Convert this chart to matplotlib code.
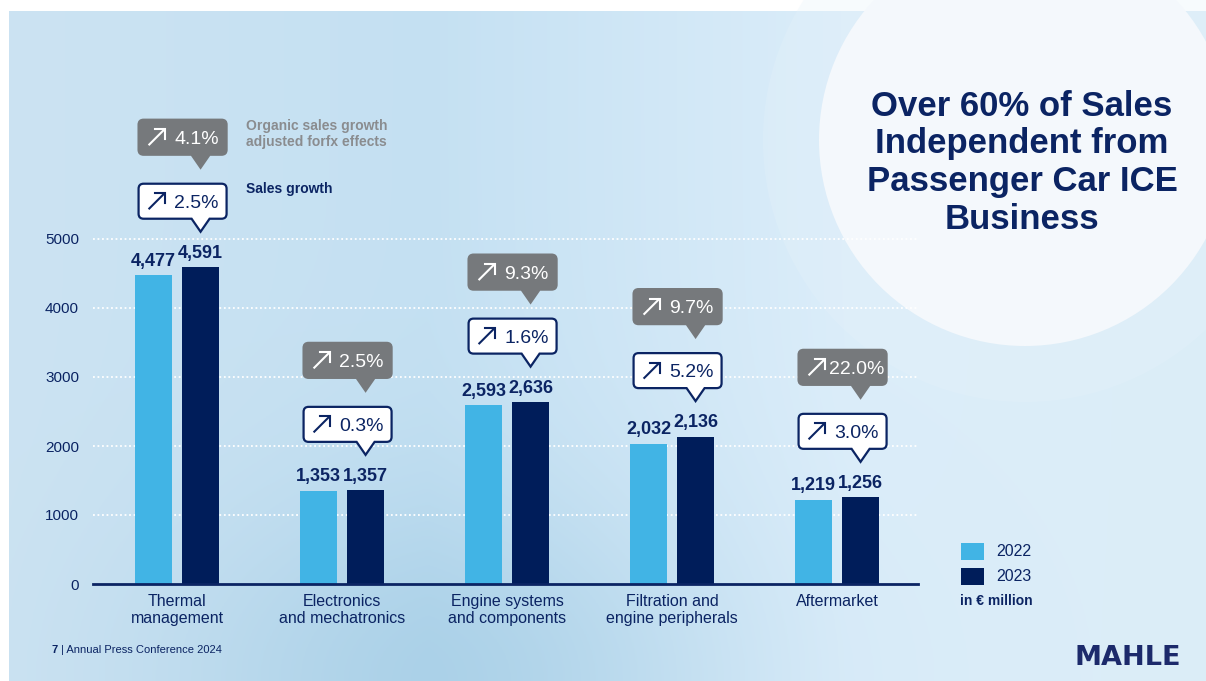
import numpy as np
import matplotlib.pyplot as plt
from matplotlib.patches import Circle, PathPatch, Rectangle
from matplotlib.path import Path

plt.rcParams['font.family'] = ['Liberation Sans', 'DejaVu Sans']

# Sales by business unit, in EUR million
categories = ['Thermal\nmanagement', 'Electronics\nand mechatronics',
              'Engine systems\nand components', 'Filtration and\nengine peripherals',
              'Aftermarket']
years = ['2022', '2023']
sales_2022 = [4477, 1353, 2593, 2032, 1219]
sales_2023 = [4591, 1357, 2636, 2136, 1256]
sales_growth = [2.5, 0.3, 1.6, 5.2, 3.0]
organic_growth = [4.1, 2.5, 9.3, 9.7, 22.0]
y_ticks = [0, 1000, 2000, 3000, 4000, 5000]

W, H = 1206, 681
NAVY = '#0b2463'
BAR_NAVY = '#001d5a'
LIGHT = '#41b4e5'
GREY = '#76797c'

fig = plt.figure(figsize=(W / 100, H / 100), dpi=100)

# ---------------- background ----------------
bg = fig.add_axes([0, 0, 1, 1], zorder=0)
bg.set_xlim(0, W)
bg.set_ylim(H, 0)
bg.axis('off')

xs = np.linspace(0, 1, 400)
ys = np.linspace(0, 1, 240)
gx, gy = np.meshgrid(xs, ys)
stops = [0.0, 0.35, 0.7, 1.0]
img = np.zeros(gx.shape + (3,))
for ch, vals in enumerate([[0.80, 0.77, 0.86, 0.86],
                           [0.89, 0.88, 0.93, 0.93],
                           [0.95, 0.95, 0.98, 0.97]]):
    img[..., ch] = np.interp(gx, stops, vals)
shade = np.exp(-((gx - 0.38) ** 2) / 0.06 - ((gy - 1.0) ** 2) / 0.08)
img -= shade[..., None] * np.array([0.10, 0.06, 0.04])
bg.imshow(img, extent=[9, W, H, 11], aspect='auto', zorder=0)

bg.add_patch(Circle((1025, 140), 262, color='#e6f2fb', alpha=0.3, lw=0, zorder=1))
bg.add_patch(Circle((1025, 140), 206, color='#f4f8fc', lw=0, zorder=2))

# ---------------- bars ----------------
ax = fig.add_axes([93 / W, (H - 584) / H, (918 - 93) / W, 345 / H], zorder=1)
ax.patch.set_alpha(0)
x = np.arange(len(categories))
off, bw = 0.142, 0.224
ax.set_xlim(-0.51, 4.49)
ax.set_ylim(0, 5000)
ax.hlines(y_ticks[1:], -0.51, 4.49, colors='white', linestyles=(0, (1, 1.5)),
          lw=1.3, clip_on=False, zorder=1)
b22 = ax.bar(x - off, sales_2022, bw, color=LIGHT, label=years[0], zorder=2)
b23 = ax.bar(x + off, sales_2023, bw, color=BAR_NAVY, label=years[1], zorder=2)

for bars in (b22, b23):
    for rect, v in zip(bars, bars.datavalues):
        ax.annotate(f'{v:,.0f}', (rect.get_x() + rect.get_width() / 2, v),
                    xytext=(0, 4), textcoords='offset points', ha='center',
                    va='bottom', fontsize=13, fontweight='bold', color=NAVY)

for side in ('top', 'right', 'left'):
    ax.spines[side].set_visible(False)
ax.spines['bottom'].set_color(NAVY)
ax.spines['bottom'].set_linewidth(2)
ax.set_yticks(y_ticks)
ax.set_yticklabels([str(t) for t in y_ticks], fontsize=11, color=NAVY)
ax.set_xticks(x)
ax.set_xticklabels(categories, fontsize=11.5, color=NAVY, linespacing=1.15)
ax.tick_params(axis='both', length=0)
ax.tick_params(axis='y', pad=10)
ax.tick_params(axis='x', pad=7)

# ---------------- overlay: callouts, title, legend ----------------
top = fig.add_axes([0, 0, 1, 1], zorder=3)
top.set_xlim(0, W)
top.set_ylim(H, 0)
top.axis('off')
top.patch.set_alpha(0)


def bubble(tip_x, cy, text, face, edge, txt_color):
    w, h, r, half, tip = 88, 35, 5, 9, 13
    cx = tip_x - 18
    l, rt, t, b = cx - w / 2, cx + w / 2, cy - h / 2, cy + h / 2
    verts = [(l + r, t), (rt - r, t), (rt, t), (rt, t + r), (rt, b - r),
             (rt, b), (rt - r, b), (tip_x + half, b), (tip_x, b + tip),
             (tip_x - half, b), (l + r, b), (l, b), (l, b - r), (l, t + r),
             (l, t), (l + r, t), (l + r, t)]
    codes = [Path.MOVETO, Path.LINETO, Path.CURVE3, Path.CURVE3, Path.LINETO,
             Path.CURVE3, Path.CURVE3, Path.LINETO, Path.LINETO, Path.LINETO,
             Path.LINETO, Path.CURVE3, Path.CURVE3, Path.LINETO, Path.CURVE3,
             Path.CURVE3, Path.CLOSEPOLY]
    top.add_patch(PathPatch(Path(verts, codes), facecolor=face,
                            edgecolor=edge, lw=1.6))
    # small up-right arrow
    ax0, ay0, s = l + 10, cy + 8, 16
    top.plot([ax0, ax0 + s], [ay0, ay0 - s], color=txt_color, lw=1.5,
             solid_capstyle='butt')
    top.plot([ax0 + s - 10, ax0 + s, ax0 + s], [ay0 - s, ay0 - s, ay0 - s + 10],
             color=txt_color, lw=1.5, solid_joinstyle='miter')
    top.text((l + 26 + rt) / 2 + 1, cy, text, ha='center', va='center_baseline',
             fontsize=14, color=txt_color)


for i in range(len(categories)):
    px, py = ax.transData.transform((x[i] + off, sales_2023[i]))
    py = H - py
    bubble(px, py - 66, f'{sales_growth[i]:.1f}%', 'white', NAVY, NAVY)
    bubble(px, py - 130, f'{organic_growth[i]:.1f}%', GREY, GREY, 'white')

top.text(246, 134, 'Organic sales growth\nadjusted forfx effects', fontsize=10,
         fontweight='bold', color='#8a8c8f', va='center', linespacing=1.25)
top.text(246, 189, 'Sales growth', fontsize=10, fontweight='bold',
         color=NAVY, va='center')

title_lines = ['Over 60% of Sales', 'Independent from',
               'Passenger Car ICE', 'Business']
for k, line in enumerate(title_lines):
    top.text(1022, 106 + 37.7 * k, line, ha='center', va='center',
             fontsize=25, fontweight='bold', color=NAVY)

# legend
for k, (yr, col) in enumerate(zip(years, [LIGHT, BAR_NAVY])):
    top.add_patch(Rectangle((961, 543 + 24.5 * k), 23, 17, color=col, lw=0))
    top.text(996, 552 + 24.5 * k, yr, fontsize=11.5, color=NAVY, va='center')
top.text(960, 601, 'in € million', fontsize=10, fontweight='bold',
         color=NAVY, va='center')

# footer
top.text(52, 650, '7', fontsize=8, fontweight='bold', color=NAVY, va='center')
top.text(61, 650, '| Annual Press Conference 2024', fontsize=8, color=NAVY,
         va='center')
top.text(1128, 658, 'MAHLE', fontsize=19.5, fontweight='bold',
         family='DejaVu Sans', color='#1c2a6b', ha='center', va='center')

fig.savefig('out.png', dpi=100)
